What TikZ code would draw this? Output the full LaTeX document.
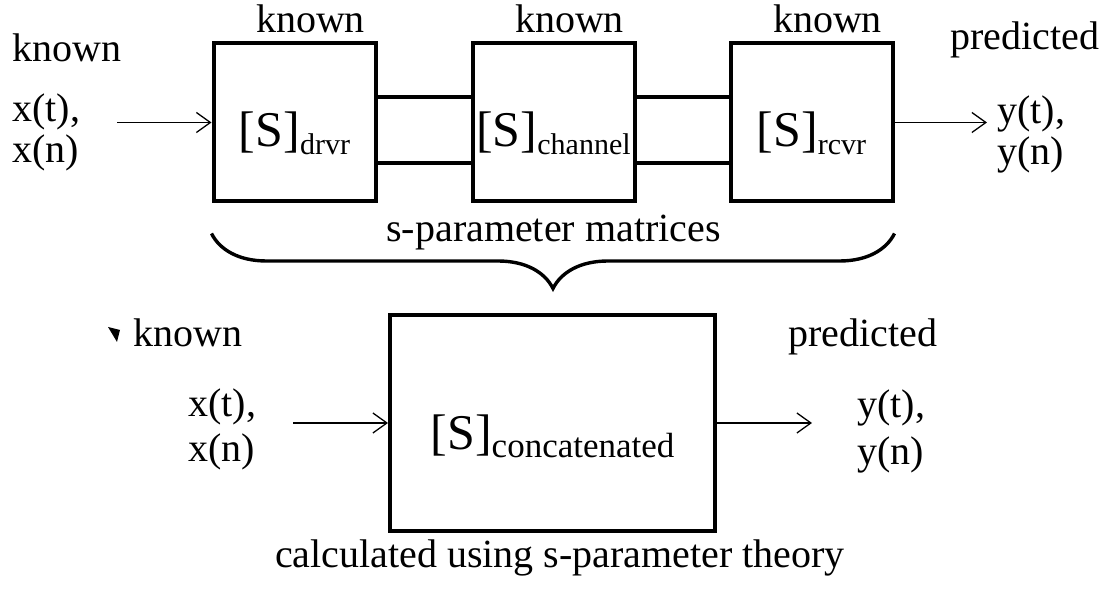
\documentclass[tikz,border=0pt]{standalone}
\usepackage{fontspec}
\setmainfont{Liberation Serif}
\usepackage{tikz}
\usetikzlibrary{arrows.meta,decorations.pathreplacing}

\newcommand{\smat}[2][15pt]{{\fontsize{25pt}{25pt}\selectfont[S]}\raisebox{-4pt}{\fontsize{#1}{#1}\selectfont #2}}

\begin{document}
\begin{tikzpicture}[x=50pt, y=50pt,
            >={Straight Barb[length=7pt,width=10pt]},
            sbox/.style={draw, line width=2pt, minimum width=81pt, minimum height=79pt, inner sep=0pt},
            lbl/.style={font=\fontsize{20pt}{24pt}\selectfont, inner sep=0pt},
            flow/.style={->, line width=0.65pt}]
        \useasboundingbox (0,0) rectangle (11.10,5.89);

        % three known blocks
        \node[sbox] (drvr) at (2.945,4.665) {};
        \node[sbox] (chan) at (5.535,4.665) {};
        \node[sbox] (rcvr) at (8.115,4.665) {};
        \node[anchor=base, inner sep=0pt] (drvrtxt) at ([yshift=-12pt]drvr.center) {\smat{drvr}};
        \node[anchor=base, inner sep=0pt] (chantxt) at ([yshift=-12pt]chan.center) {\smat{channel}};
        \node[anchor=base, inner sep=0pt] (rcvrtxt) at ([yshift=-12pt]rcvr.center) {\smat{rcvr}};
        \foreach \b in {drvr,chan,rcvr}
            \node[lbl, anchor=base] (k\b) at ([xshift=8pt,yshift=4.5pt]\b.north) {known};

        \draw[line width=2pt] (drvr.east |- 0,4.92) -- (chan.west |- 0,4.92);
        \draw[line width=2pt] (drvr.east |- 0,4.26) -- (chan.west |- 0,4.26);
        \draw[line width=2pt] (chan.east |- 0,4.92) -- (rcvr.west |- 0,4.92);
        \draw[line width=2pt] (chan.east |- 0,4.26) -- (rcvr.west |- 0,4.26);

        \node[lbl, anchor=base west] (kin) at (0.12,5.27) {known};
        \node[lbl, anchor=base west] (xt) at (0.12,4.67) {x(t),};
        \node[lbl, anchor=base west] (xn) at (0.12,4.26) {x(n)};
        \coordinate (xin) at (1.17,4.665);
        \draw[flow] (xin) -- (drvr);

        \coordinate (yout) at (9.87,4.665);
        \draw[flow] (rcvr) -- (yout);
        \node[lbl, anchor=base west] (pout) at (9.50,5.39) {predicted};
        \node[lbl, anchor=base west] (yt) at (9.97,4.65) {y(t),};
        \node[lbl, anchor=base west] (yn) at (9.97,4.24) {y(n)};

        % brace
        \draw[line width=1.7pt, decorate, decoration={brace, mirror, amplitude=27.5pt}]
            ([yshift=-15pt]drvr.south west) -- ([yshift=-15pt]rcvr.south east);
        \node[lbl, anchor=base] (smats) at (5.535,3.47) {s-parameter matrices};

        % concatenated block
        \node[sbox, minimum width=162.5pt, minimum height=108pt] (cat) at (5.525,1.66) {};
        \node[anchor=base, inner sep=0pt] (cattxt) at ([yshift=-13.5pt]cat.center) {\smat[17.5pt]{concatenated}};

        \fill (1.08,2.62) -- (1.20,2.59) -- (1.17,2.47) -- cycle;
        \node[lbl, anchor=base west] (kout) at (1.33,2.42) {known};
        \node[lbl, anchor=base west] (xt2) at (1.88,1.72) {x(t),};
        \node[lbl, anchor=base west] (xn2) at (1.88,1.27) {x(n)};
        \coordinate (xin2) at (2.93,1.66);
        \draw[flow] (xin2) -- (cat);

        \coordinate (yout2) at (8.12,1.66);
        \draw[flow] (cat) -- (yout2);
        \node[lbl, anchor=base west] (pout2) at (7.88,2.42) {predicted};
        \node[lbl, anchor=base west] (yt2) at (8.57,1.71) {y(t),};
        \node[lbl, anchor=base west] (yn2) at (8.57,1.24) {y(n)};

        \node[lbl, anchor=base] (theory) at (5.60,0.21) {calculated using s-parameter theory};
\end{tikzpicture}
\end{document}
